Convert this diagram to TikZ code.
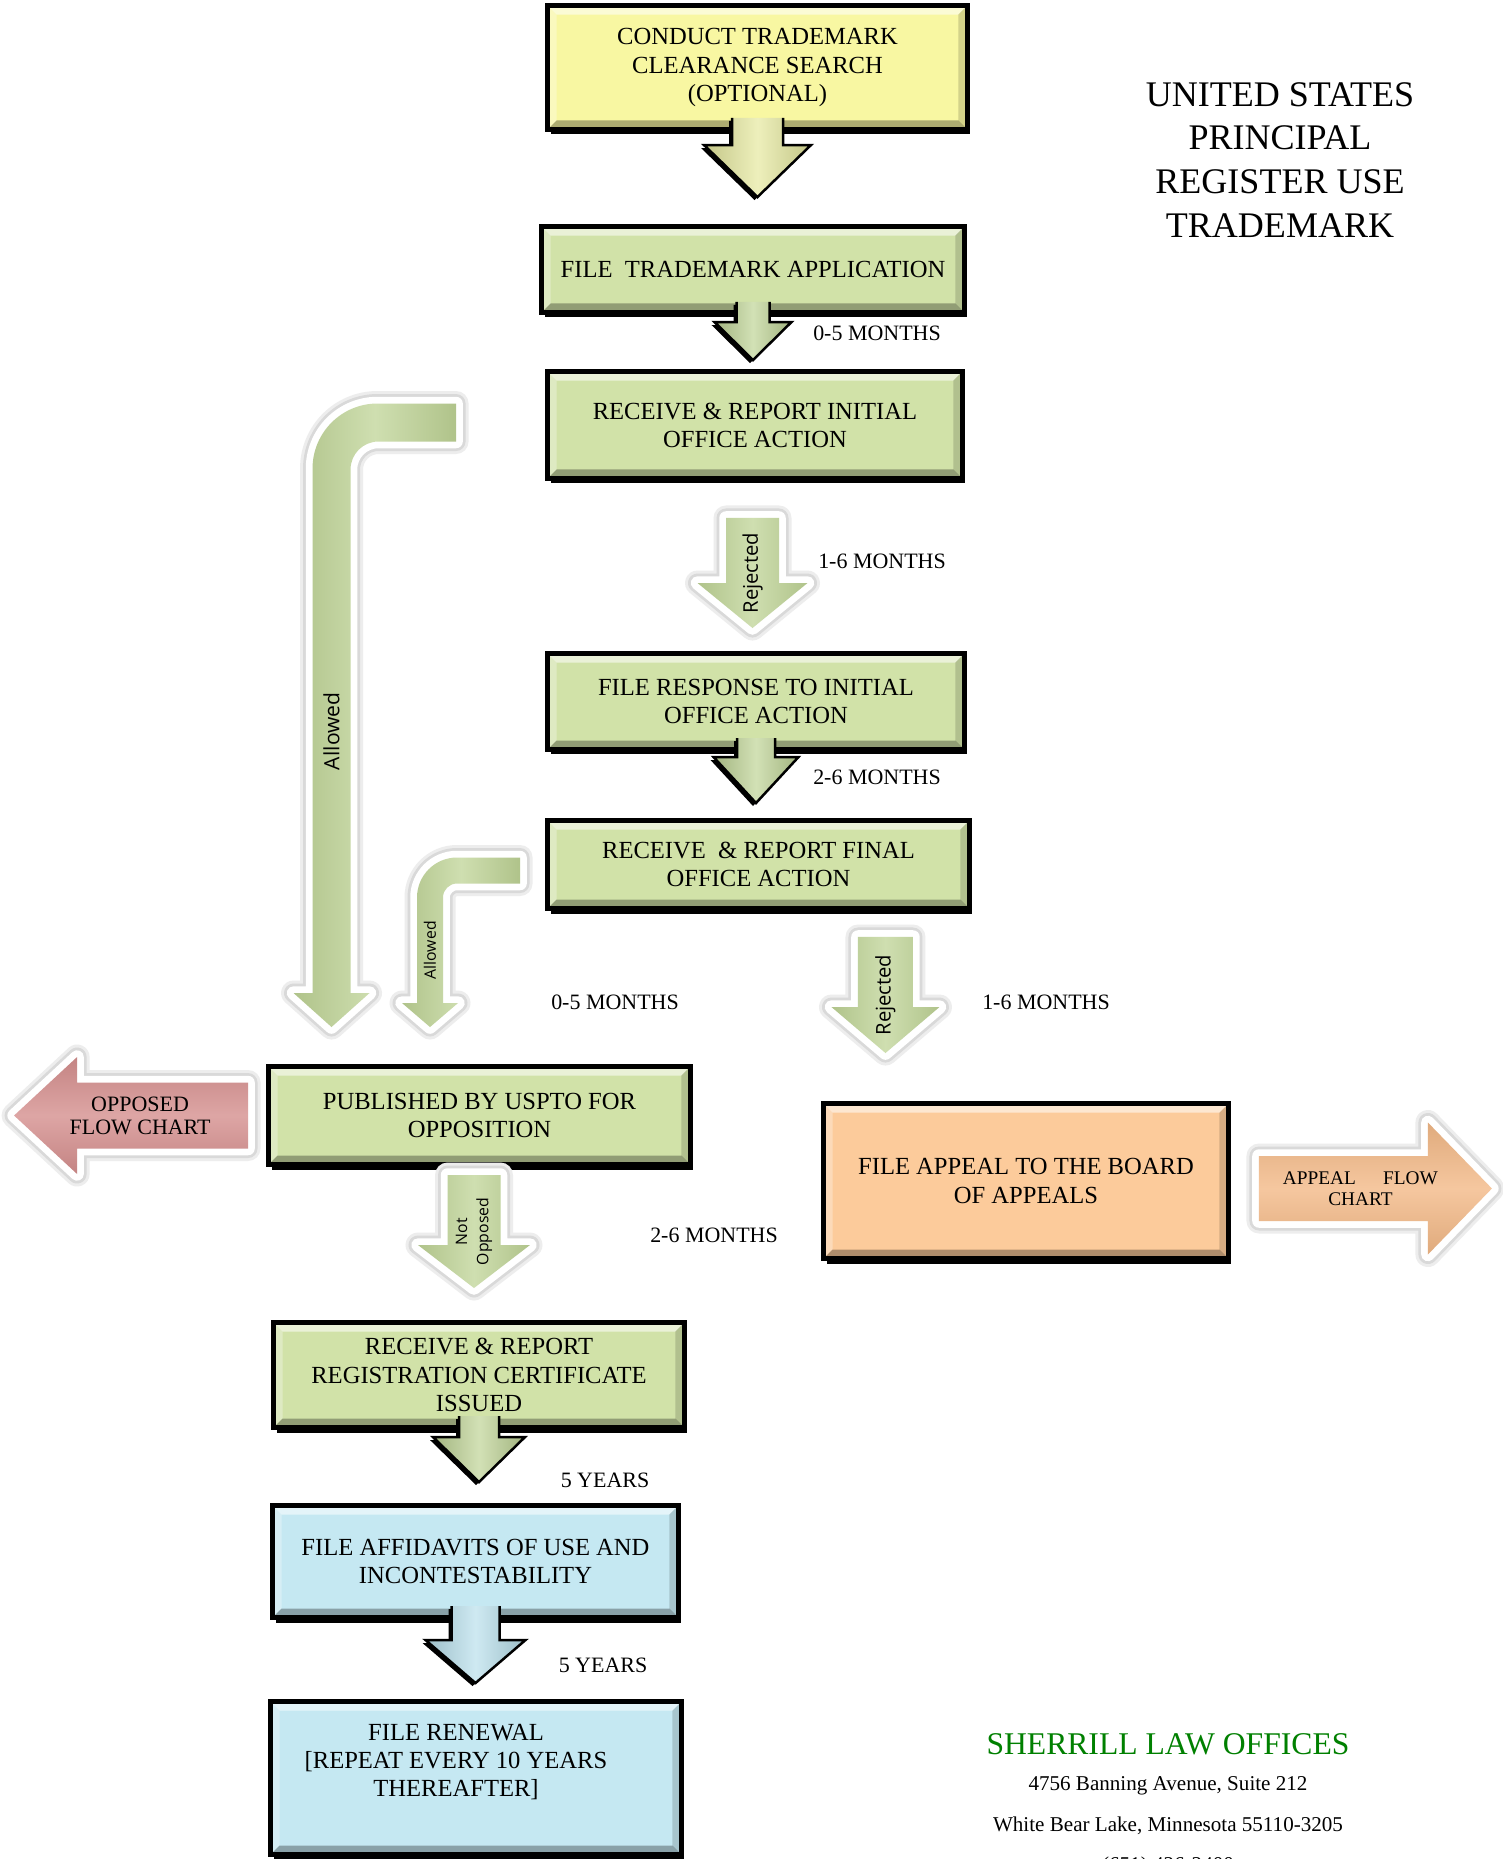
\documentclass[tikz,border=0pt]{standalone}
\usepackage{fontspec}
\setmainfont{Liberation Serif}
\newfontfamily\tagfont{Open Sans}
\usetikzlibrary{calc,shadows}

\definecolor{boxyellow}{HTML}{F8F7A2}
\definecolor{boxgreen}{HTML}{D1E2A8}
\definecolor{boxorange}{HTML}{FCCB9B}
\definecolor{boxblue}{HTML}{C5E8F2}
\definecolor{aryellow}{HTML}{E6E99F}
\definecolor{argreen}{HTML}{BFD496}
\definecolor{arblue}{HTML}{B9E0EC}
\definecolor{arpink}{HTML}{D58F8E}
\definecolor{arorange}{HTML}{F3B987}
\definecolor{lawgreen}{HTML}{008000}

\tikzset{
  bevel/.style = {path picture={
    \path (path picture bounding box.north west) coordinate (pnw)
          (path picture bounding box.north east) coordinate (pne)
          (path picture bounding box.south west) coordinate (psw)
          (path picture bounding box.south east) coordinate (pse);
    \fill[white,opacity=.55] (pnw) -- (pne) -- ([shift={(-0.18cm,-0.18cm)}]pne) -- ([shift={(0.18cm,-0.18cm)}]pnw) -- cycle;
    \fill[white,opacity=.3] (pnw) -- ([shift={(0.18cm,-0.18cm)}]pnw) -- ([shift={(0.18cm,0.18cm)}]psw) -- (psw) -- cycle;
    \fill[black,opacity=.3] (psw) -- ([shift={(0.18cm,0.18cm)}]psw) -- ([shift={(-0.18cm,0.18cm)}]pse) -- (pse) -- cycle;
    \fill[black,opacity=.15] (pse) -- ([shift={(-0.18cm,0.18cm)}]pse) -- ([shift={(-0.18cm,-0.18cm)}]pne) -- (pne) -- cycle;
  }},
  stage/.style = {rectangle, align=center, draw=black, line width=0.1cm, text=black,
    font=\fontsize{14}{16}\selectfont, bevel,
    drop shadow={shadow xshift=0.06cm, shadow yshift=-0.1cm, opacity=1, fill=black}},
  stage_y/.style = {stage, fill=boxyellow},% optional search
  stage_g/.style = {stage, fill=boxgreen},% main steps
  stage_o/.style = {stage, fill=boxorange},% appeal
  stage_b/.style = {stage, fill=boxblue},% after registration
  drop/.style = {draw=black, line width=0.05cm, left color=#1!85!black, right color=#1!85!black,
    middle color=#1!70!white,
    drop shadow={shadow xshift=-0.06cm, shadow yshift=-0.06cm, opacity=1, fill=black}},
  glow/.style = {preaction={draw=black!7, line width=0.5cm, line join=round},
    preaction={draw=black!15, line width=0.38cm, line join=round},
    preaction={draw=white, line width=0.27cm, line join=round}},
  ridge/.style = {left color=#1!92!black, right color=#1!92!black, middle color=#1!75!white},% vertical arrow
  band/.style = {top color=#1!92!black, bottom color=#1!92!black, middle color=#1!80!white},% side arrow
  tag/.style = {font=\tagfont\fontsize{11.5}{13}\selectfont, text=black, inner sep=0pt,
    align=center, rotate=90},
  badge/.style = {font=\fontsize{12.5}{13}\selectfont, text=black, inner sep=0pt, align=center},
  span/.style = {font=\fontsize{12.5}{14}\selectfont, inner sep=0pt},
  headline/.style = {font=\fontsize{20.5}{25}\selectfont, align=center, inner sep=0pt},
  firm/.style = {font=\fontsize{12}{14}\selectfont, inner sep=0pt}
}

% down block arrow: style, start, tip, half shaft, half head, head length, label options, label, closing
\newcommand{\blockdown}[9]{%
  \path[#1] let \p1=#2, \p2=#3 in
    ({\x1-#4},\y1) -- ({\x1-#4},{\y2+#6}) -- ({\x1-#5},{\y2+#6}) -- (\x1,\y2)
    -- ({\x1+#5},{\y2+#6}) -- ({\x1+#4},{\y2+#6}) -- ({\x1+#4},\y1) #9;
  \if\relax\detokenize{#8}\relax\else
    \path let \p1=#2, \p2=#3 in (\x1,{0.5*(\y1+\y2)}) node[tag,#7] {#8};
  \fi
}
% bent arrow: style, start, tip, half shaft, half head, head length, outer radius, inner radius, label
\newcommand{\bentdown}[9]{%
  \path[#1] let \p1=#2, \p2=#3 in
    (\x1,{\y1+#4}) -- ({\x2-#4+#7},{\y1+#4}) arc[start angle=90, end angle=180, radius=#7]
    -- ({\x2-#4},{\y2+#6}) -- ({\x2-#5},{\y2+#6}) -- (\x2,\y2) -- ({\x2+#5},{\y2+#6})
    -- ({\x2+#4},{\y2+#6}) -- ({\x2+#4},{\y1-#4-#8}) arc[start angle=180, end angle=90, radius=#8]
    -- (\x1,{\y1-#4}) -- cycle;
  \path let \p1=#2, \p2=#3 in (\x2,{0.5*(\y1-#4-#8+\y2+#6)}) node[tag] {#9};
}
% side arrow: style, start, tip, half shaft, half head, signed head length, label options, label
\newcommand{\blockside}[8]{%
  \path[#1] let \p1=#2, \p2=#3 in
    (\x1,{\y1+#4}) -- ({\x2+#6},{\y1+#4}) -- ({\x2+#6},{\y1+#5}) -- (\x2,\y1)
    -- ({\x2+#6},{\y1-#5}) -- ({\x2+#6},{\y1-#4}) -- (\x1,{\y1-#4}) -- cycle;
  \path let \p1=#2, \p2=#3 in ({0.5*(\x1+\x2)},\y1) node[badge,#7] {#8};
}

\begin{document}
\begin{tikzpicture}[x=0.02cm, y=-0.02cm]
\useasboundingbox[fill=white] (0,0) rectangle (1502,1859);

\node [stage_y, minimum width=8.4cm, minimum height=2.48cm] (search) at (757.5,67.5)
  {CONDUCT TRADEMARK\\CLEARANCE SEARCH\\(OPTIONAL)};
\node [stage_g, minimum width=8.46cm, minimum height=1.72cm] (apply) at (753,269.5)
  {FILE\ \ TRADEMARK APPLICATION};
\node [stage_g, minimum width=8.3cm, minimum height=2.14cm] (initial) at (755,425)
  {RECEIVE \& REPORT INITIAL\\OFFICE ACTION};
\node [stage_g, minimum width=8.34cm, minimum height=1.92cm] (response) at (756,701.5)
  {FILE RESPONSE TO INITIAL\\OFFICE ACTION};
\node [stage_g, minimum width=8.44cm, minimum height=1.76cm] (final) at (758.5,864.5)
  {RECEIVE\ \ \& REPORT FINAL\\OFFICE ACTION};
\node [stage_g, minimum width=8.44cm, minimum height=1.96cm] (publish) at (479.5,1115.5)
  {PUBLISHED BY USPTO FOR\\OPPOSITION};
\node [stage_o, minimum width=8.1cm, minimum height=3.1cm] (appeal) at (1026,1181)
  {FILE APPEAL TO THE BOARD\\OF APPEALS};
\node [stage_g, minimum width=8.22cm, minimum height=2.1cm] (cert) at (479,1375)
  {RECEIVE \& REPORT\\REGISTRATION CERTIFICATE\\ISSUED};
\node [stage_b, minimum width=8.12cm, minimum height=2.24cm] (affidavit) at (475.5,1561.5)
  {FILE AFFIDAVITS OF USE AND\\INCONTESTABILITY};
\node [stage_b, minimum width=8.22cm, minimum height=3.06cm] (renewal) at (476,1778) {};
\node [badge, font=\fontsize{14}{16}\selectfont] (renewaltxt) at (456,1762)
  {FILE RENEWAL\\{[}REPEAT EVERY 10 YEARS\\THEREAFTER{]}};

\blockdown{drop=aryellow}{([yshift=0.28cm]search.south)}{([yshift=0.54cm]apply.north)}
  {0.51cm}{1.07cm}{1.04cm}{}{}{}
\blockdown{drop=argreen}{([yshift=0.26cm]apply.south)}{([yshift=0.18cm]initial.north)}
  {0.33cm}{0.77cm}{0.76cm}{}{}{}
\blockdown{glow, ridge=argreen}{([xshift=-0.05cm,yshift=-0.74cm]initial.south)}{([yshift=0.46cm]response.north)}
  {0.53cm}{1.1cm}{0.9cm}{}{Rejected}{-- cycle}
\blockdown{drop=argreen}{([yshift=0.28cm]response.south)}{([yshift=0.3cm]final.north)}
  {0.38cm}{0.85cm}{0.92cm}{}{}{}
\blockdown{glow, ridge=argreen}{([xshift=2.54cm,yshift=-0.52cm]final.south)}{([yshift=0.96cm]appeal.north)}
  {0.55cm}{1.08cm}{0.92cm}{}{Rejected}{-- cycle}
\blockdown{glow, ridge=argreen}{([xshift=-0.11cm,yshift=-0.16cm]publish.south)}{([yshift=0.64cm]cert.north)}
  {0.53cm}{1.12cm}{0.86cm}{font=\tagfont\fontsize{9}{12}\selectfont}{Not\\Opposed}{-- cycle}
\blockdown{drop=argreen}{([yshift=0.28cm]cert.south)}{([yshift=0.42cm]affidavit.north)}
  {0.4cm}{0.92cm}{0.9cm}{}{}{}
\blockdown{drop=arblue}{([yshift=0.28cm]affidavit.south)}{([yshift=0.32cm]renewal.north)}
  {0.48cm}{1.0cm}{0.86cm}{}{}{}

\bentdown{glow, ridge=argreen}{([xshift=-1.78cm,yshift=0.05cm]initial.west)}{([xshift=1.31cm,yshift=0.74cm]publish.north west)}
  {0.38cm}{0.76cm}{0.68cm}{1.3cm}{0.56cm}{\fontsize{12}{13}\selectfont Allowed}
\bentdown{glow, ridge=argreen}{([xshift=-0.5cm,yshift=-0.12cm]final.west)}{([xshift=3.28cm,yshift=0.74cm]publish.north west)}
  {0.26cm}{0.56cm}{0.48cm}{0.8cm}{0.28cm}{\fontsize{9}{10}\selectfont Allowed}

\blockside{glow, band=arpink}{([xshift=-0.36cm]publish.west)}{([xshift=-5.04cm]publish.west)}
  {0.66cm}{1.17cm}{1.26cm}{xshift=0.18cm}{OPPOSED\\FLOW CHART}
\blockside{glow, band=arorange}{([xshift=0.56cm,yshift=-0.15cm]appeal.east)}{([xshift=5.22cm]appeal.east)}
  {0.65cm}{1.32cm}{(-1.28cm)}{font=\fontsize{11}{12}\selectfont, text width=3.1cm, xshift=-0.3cm}{APPEAL\hfill FLOW\\CHART}

\node [span] (m1) at (877,333) {0-5 MONTHS};
\node [span] (m2) at (882,561) {1-6 MONTHS};
\node [span] (m3) at (877,777) {2-6 MONTHS};
\node [span] (m4) at (615,1002) {0-5 MONTHS};
\node [span] (m5) at (1046,1002) {1-6 MONTHS};
\node [span] (m6) at (714,1235) {2-6 MONTHS};
\node [span] (y1) at (605,1480) {5 YEARS};
\node [span] (y2) at (603,1665) {5 YEARS};

\node [headline] (title) at (1280,160) {UNITED STATES\\PRINCIPAL\\REGISTER USE\\TRADEMARK};

\node [firm, font=\fontsize{18}{20}\selectfont, text=lawgreen] (firm) at (1168,1744) {SHERRILL LAW OFFICES};
\node [firm] (street) at (1168,1786) {4756 Banning Avenue, Suite 212};
\node [firm] (city) at (1168,1826) {White Bear Lake, Minnesota 55110-3205};
\node [firm] (phone) at (1168,1866) {(651) 426-2400};
\end{tikzpicture}
\end{document}
